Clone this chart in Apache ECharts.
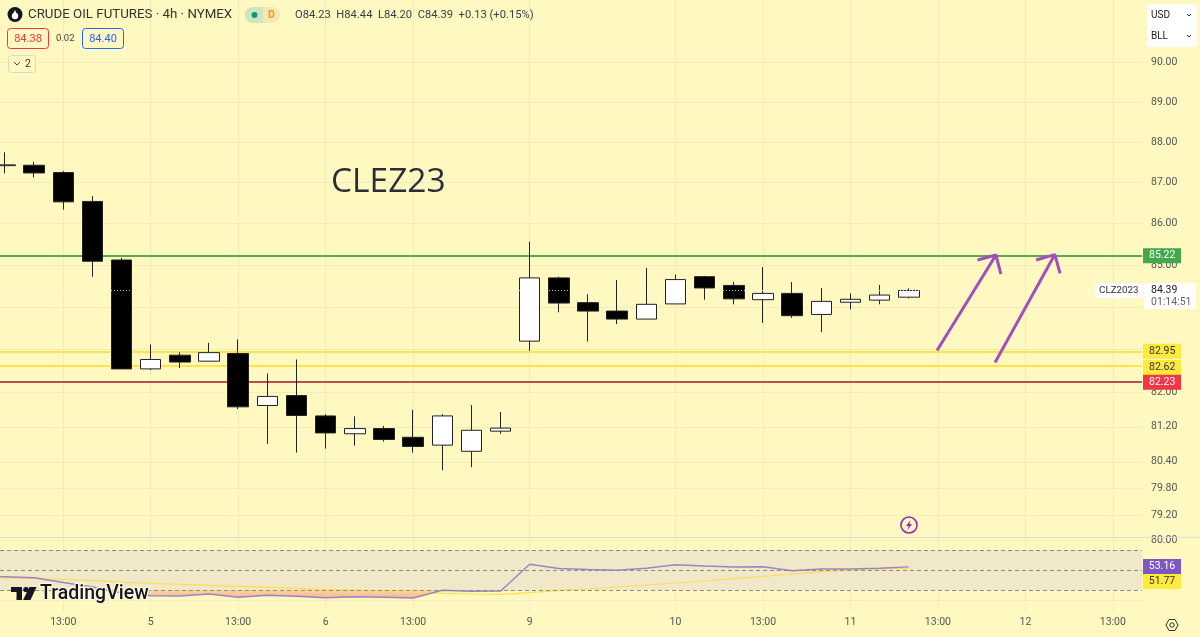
<!DOCTYPE html>
<html><head><meta charset="utf-8">
<style>html,body{margin:0;padding:0;background:#fff8c0}#c{width:1200px;height:637px}</style>
<script src="https://cdn.jsdelivr.net/npm/echarts@6/dist/echarts.min.js"></script>
</head><body><div id="c"></div>
<script>
const priceOpen=[87.42,87.43,87.25,86.54,85.12,82.54,82.86,82.72,82.90,81.69,81.92,81.45,81.04,81.16,80.96,80.78,80.64,81.10,83.19,84.69,84.10,83.90,83.71,84.07,84.72,84.51,84.17,84.32,83.82,84.11,84.16,84.23];
const priceClose=[87.44,87.24,86.53,85.09,82.54,82.76,82.70,82.92,81.66,81.90,81.46,81.06,81.16,80.91,80.75,81.45,81.12,81.17,84.69,84.09,83.90,83.71,84.06,84.65,84.45,84.19,84.32,83.79,84.13,84.18,84.28,84.39];
const priceLow=[87.23,87.13,86.34,84.72,82.54,82.51,82.56,82.72,81.61,80.81,80.61,80.70,80.77,80.86,80.61,80.21,80.28,81.04,82.96,83.87,83.18,83.59,83.71,84.07,84.17,84.06,83.62,83.74,83.40,83.94,84.06,84.20];
const priceHigh=[87.75,87.51,87.29,86.67,85.17,83.11,82.93,83.15,83.23,82.43,82.76,81.49,81.44,81.22,81.59,81.49,81.70,81.54,85.56,84.72,84.30,84.64,84.93,84.77,84.74,84.59,84.95,84.59,84.45,84.32,84.52,84.44];
const rsiValues=[43.5,43.3,42.3,37.5,33,27,24.3,24,26,22.7,24.7,23.7,22.3,23.3,22.7,22,29.7,28.7,29,55.7,51.5,50.5,49.7,51.7,55.3,54,53,53.3,49.3,51,51,51.7,53.16];
const rsiMa=[42,41.8,41.6,40.5,39.3,38,36.7,35.7,34.7,33.7,32.7,31.7,30.7,30,29,28,26.7,26,25.7,27.3,29.7,31,33,35,37,39,41.3,43.5,46,48.3,50,51.2,51.77];
const timeTickIndex=[2,5,8,11,14,18,23,26,29,32,35,38];
const timeTickLabels=['13:00','5','13:00','6','13:00','9','10','13:00','11','13:00','12','13:00'];
const priceLabelTicks=[90,89,88,87,86,85,82,81.2,80.4,79.8,79.2];
const priceGridTicks=[90,89,88,87,86,85,84,83,82,81.2,80.4,79.8,79.2];
const rsiLabelTicks=[80];
const rsiGridTicks=[80,60,40,20];
const levelValues=[85.22,82.95,82.62,82.23];
const levelColors=['#58a850','#fde44a','#fde44a','#b9504f'];
const levelBoxColors=['#43a84a','#ffe93b','#ffe93b','#f23645'];
const levelTextColors=['#fff','#333','#333','#fff'];
const arrowOne=[[31.97,82.97],[33.99,85.24],[33.36,85.12],[33.99,85.24],[34.16,84.78]];
const arrowTwo=[[33.96,82.69],[36.01,85.25],[35.37,85.12],[36.01,85.25],[36.19,84.80]];
const lastPrice=84.39;

const F='Roboto, "Open Sans", sans-serif';
const BG='#fff8c0';
const GRID='#f2ecb8';
const chart=echarts.init(document.getElementById('c'),null,{renderer:'canvas'});
const candles=priceOpen.map((o,i)=>[i,o,priceClose[i],priceLow[i],priceHigh[i]]);
const rsiData=rsiValues.map((v,i)=>[i-1,v]);
const maData=rsiMa.map((v,i)=>[i-1,v]);
const fillData=rsiValues.map((v,i)=>[i-1,Math.min(v,30)]);
function txt(x,y,text,size,fill,extra){return {type:'text',z:100,silent:true,style:Object.assign({x,y,text,fontSize:size,fontFamily:F,fill,verticalAlign:'middle',align:'left'},extra||{})};}
function box(x,y,w,h,fill,stroke,r){return {type:'rect',z:99,silent:true,shape:{x,y,width:w,height:h,r:r||0},style:{fill,stroke:stroke||null,lineWidth:1}};}
function poly(points,fill,stroke,lw){return {type:'polygon',z:100,silent:true,shape:{points},style:{fill:fill||null,stroke:stroke||null,lineWidth:lw||1}};}
function pl(points,stroke,lw){return {type:'polyline',z:100,silent:true,shape:{points},style:{fill:null,stroke,lineWidth:lw||1}};}
const graphics=[
 {type:'line',z:3,silent:true,shape:{x1:0,y1:537.5,x2:1200,y2:537.5},style:{stroke:'#dfdbe4',lineWidth:1}},
 txt(331,182,'CLEZ23',33.5,'#2a2e39',{fontFamily:'"Open Sans", Roboto, sans-serif'}),
 {type:'circle',z:100,silent:true,shape:{cx:15,cy:14.5,r:7.5},style:{fill:'#131722'}},
 {type:'circle',z:101,silent:true,shape:{cx:15,cy:16,r:3.2},style:{fill:'#fff'}},
 poly([[15,10],[12.6,15],[17.4,15]],'#fff'),
 txt(28,15,'CRUDE OIL FUTURES · 4h · NYMEX',13.3,'#333'),
 box(245,7,35,16,'#f3e7b8',null,8),
 {type:'rect',z:100,silent:true,shape:{x:245,y:7,width:18,height:16,r:[8,0,0,8]},style:{fill:'#cfe5bd'}},
 {type:'circle',z:101,silent:true,shape:{cx:254.5,cy:15,r:3},style:{fill:'#089981'}},
 txt(268,15,'D',10.5,'#ff9800',{fontWeight:'bold'}),
 txt(295,15,'O84.23  H84.44  L84.20  C84.39  +0.13 (+0.15%)',11.2,'#3a3f4a'),
 box(7.5,28.5,41,20,BG,'#f23645',3),
 txt(28,39,'84.38',11,'#f23645',{align:'center'}),
 txt(56,39,'0.02',9.5,'#444'),
 box(82.5,28.5,41,20,BG,'#2962ff',3),
 txt(103,39,'84.40',11,'#2962ff',{align:'center'}),
 box(8.5,55.5,27,17,BG,'#dcd8c0',3),
 pl([[14,62],[17,65],[20,62]],'#444',1),
 txt(25,64,'2',10.5,'#333'),
 box(1147,4,50,43,'#ffffff',null,4),
 txt(1151,15,'USD',10,'#222'),
 txt(1151,36,'BLL',10,'#222'),
 pl([[1187,14],[1189,16],[1191,14]],'#333',1),
 pl([[1187,35],[1189,37],[1191,35]],'#333',1),
 box(1095,283,48,15,'#ffffff'),
 txt(1099,290.5,'CLZ2023',9.8,'#333'),
 box(1144,283,52,26,'#ffffff'),
 txt(1151,290.5,'84.39',10.5,'#222'),
 txt(1151,302.5,'01:14:51',10.5,'#666'),
 box(1143,559,38,15,'#7e57c2'),
 txt(1162,566.5,'53.16',10.5,'#fff',{align:'center'}),
 box(1143,574,38,15,'#ffeb3b'),
 txt(1162,581.5,'51.77',10.5,'#333',{align:'center'}),
 {type:'circle',z:100,silent:true,shape:{cx:909,cy:525,r:8},style:{fill:BG,stroke:'#9c27b0',lineWidth:1.6}},
 poly([[910.5,520],[906,526],[908.6,526],[907.5,530],[912,524],[909.4,524]],'#9c27b0'),
 poly([[11,587],[22,587],[22,600],[16.5,600],[16.5,592],[11,592]],'#131722'),
 {type:'circle',z:100,silent:true,shape:{cx:26,cy:589.6,r:2.7},style:{fill:'#131722'}},
 poly([[29.5,587],[36.5,587],[30.5,600],[23,600]],'#131722'),
 txt(40,594.5,'TradingView',19.5,'#131722',{fontWeight:'500',stroke:'#fff8e0',lineWidth:2.5}),
 poly([[1166,625],[1169,619.5],[1175,619.5],[1178,625],[1175,630.5],[1169,630.5]],null,'#333',1),
 {type:'circle',z:100,silent:true,shape:{cx:1172,cy:625,r:2.2},style:{fill:null,stroke:'#333',lineWidth:1}}
];
const xCommon={type:'value',min:-0.17,max:39,splitNumber:1,axisLine:{show:false},axisTick:{show:false,customValues:timeTickIndex},splitLine:{show:true,lineStyle:{color:GRID,width:1}}};
chart.setOption({
 animation:false,
 backgroundColor:BG,
 grid:[{left:0,top:0,width:1142,height:537},{left:0,top:537,width:1142,height:75}],
 xAxis:[
  Object.assign({},xCommon,{gridIndex:0,axisLabel:{show:false}}),
  Object.assign({},xCommon,{gridIndex:1,axisLabel:{show:true,customValues:timeTickIndex,margin:5,fontSize:10.5,fontFamily:F,color:'#555',hideOverlap:false,showMinLabel:true,showMaxLabel:true,
    formatter:v=>timeTickLabels[timeTickIndex.indexOf(v)]}})
 ],
 yAxis:[
  {type:'log',logBase:10,gridIndex:0,position:'right',min:78.71,max:91.61,axisLine:{show:false},
   axisTick:{show:false,customValues:priceGridTicks},
   splitLine:{show:true,lineStyle:{color:GRID}},
   axisLabel:{customValues:priceLabelTicks,margin:9,fontSize:10.5,fontFamily:F,color:'#555',formatter:v=>Number(v).toFixed(2),hideOverlap:false}},
  {type:'value',gridIndex:1,position:'right',min:8,max:83,axisLine:{show:false},
   axisTick:{show:false,customValues:rsiGridTicks},
   splitLine:{show:true,lineStyle:{color:GRID}},
   axisLabel:{customValues:rsiLabelTicks,margin:9,fontSize:10.5,fontFamily:F,color:'#555',formatter:v=>Number(v).toFixed(2)}}
 ],
 series:[
  {type:'line',name:'levels',xAxisIndex:0,yAxisIndex:0,data:[],z:1,
   markLine:{silent:true,symbol:'none',animation:false,z:1,
    data:levelValues.map((v,i)=>({yAxis:v,lineStyle:{color:levelColors[i],width:2,type:'solid',opacity:1},
      label:{show:true,position:'end',distance:1,formatter:v.toFixed(2),fontSize:10.5,fontFamily:F,color:levelTextColors[i],backgroundColor:levelBoxColors[i],
       padding:[0,6],height:15,lineHeight:15,width:26,align:'left',offset:i===2?[0,2]:[0,0]}}))}},
  {type:'candlestick',name:'CLZ2023',xAxisIndex:0,yAxisIndex:0,barWidth:21,z:3,data:candles,encode:{x:0,y:[1,2,3,4]},
   itemStyle:{color:'#ffffff',color0:'#000000',borderColor:'#222',borderColor0:'#222',borderWidth:1},
   markLine:{silent:true,symbol:'none',animation:false,
    data:[{yAxis:lastPrice,lineStyle:{color:'rgba(255,255,255,0.75)',width:1,type:[1,2]},label:{show:false}}]}},
  {type:'line',name:'arrow 1',xAxisIndex:0,yAxisIndex:0,data:arrowOne,showSymbol:false,symbol:'none',lineStyle:{color:'#a04fbd',width:3},z:6},
  {type:'line',name:'arrow 2',xAxisIndex:0,yAxisIndex:0,data:arrowTwo,showSymbol:false,symbol:'none',lineStyle:{color:'#a04fbd',width:3},z:6},
  {type:'line',name:'band',xAxisIndex:1,yAxisIndex:1,data:[],z:1,
   markArea:{silent:true,itemStyle:{color:'#f1e7c9'},data:[[{yAxis:70},{yAxis:30}]]},
   markLine:{silent:true,symbol:'none',label:{show:false},lineStyle:{color:'#8f8a82',type:[4,3],width:1},data:[{yAxis:70},{yAxis:50},{yAxis:30}]}},
  {type:'line',name:'oversold',xAxisIndex:1,yAxisIndex:1,data:fillData,symbol:'none',lineStyle:{opacity:0},z:2,
   areaStyle:{origin:30,opacity:1,color:new echarts.graphic.LinearGradient(0,0,0,1,[{offset:0,color:'#fcd98f'},{offset:1,color:'#f6b3a6'}])}},
  {type:'line',name:'RSI MA',xAxisIndex:1,yAxisIndex:1,data:maData,symbol:'none',lineStyle:{color:'#fbe04e',width:1.2},z:3},
  {type:'line',name:'RSI',xAxisIndex:1,yAxisIndex:1,data:rsiData,symbol:'none',lineStyle:{color:'#9a85c4',width:1.4},z:4}
 ],
 graphic:{elements:graphics}
});
</script></body></html>
